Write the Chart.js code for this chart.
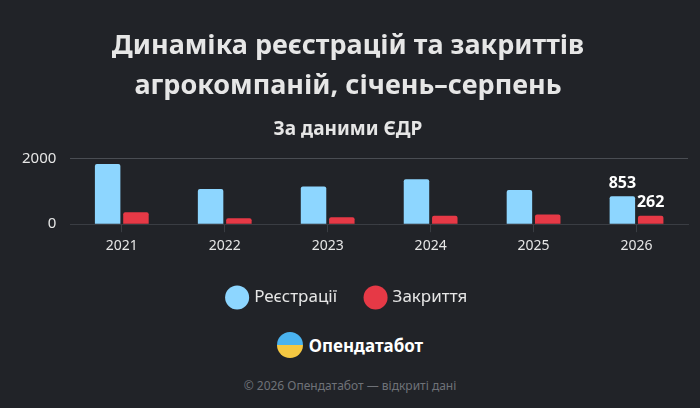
<!DOCTYPE html>
<html>
<head>
<meta charset="utf-8">
<script src="https://cdn.jsdelivr.net/npm/chart.js@4"></script>
<style>
  html, body { margin: 0; padding: 0; background: #212328; font-family: "Noto Sans", sans-serif; }
  #wrap { width: 700px; height: 316px; position: relative; }
  .brand { display: flex; align-items: center; justify-content: center; gap: 6px; color: #fff; font-weight: bold; font-size: 17px; margin-top: 14px; height: 30px; }
  .logo { width: 26px; height: 26px; border-radius: 50%; background: linear-gradient(#4ab3f0 50%, #f5c842 50%); }
  .foot { text-align: center; color: #6f7278; font-size: 12px; margin-top: 17px; }
</style>
</head>
<body>
<div id="wrap"><canvas id="myChart"></canvas></div>
<div class="brand"><div class="logo"></div>Опендатабот</div>
<div class="foot">© 2026 Опендатабот — відкриті дані</div>
<script>
var years = ['2021', '2022', '2023', '2024', '2025', '2026'];
var registrations = [1840, 1075, 1150, 1375, 1045, 853];
var closures = [365, 185, 215, 255, 295, 262];
var yTicks = [0, 2000];

// label only the latest year
var lastLabels = {
    id: 'lastLabels',
    afterDatasetsDraw: function (chart) {
        var ctx = chart.ctx;
        ctx.save();
        ctx.fillStyle = '#ffffff';
        ctx.font = 'bold 16px "Noto Sans"';
        ctx.textAlign = 'center';
        ctx.textBaseline = 'bottom';
        chart.data.datasets.forEach(function (ds, i) {
            var meta = chart.getDatasetMeta(i);
            var last = meta.data.length - 1;
            var bar = meta.data[last];
            ctx.fillText(ds.data[last], bar.x, bar.y - 5);
        });
        ctx.restore();
    }
};

var ctx = document.getElementById('myChart').getContext('2d');
var chart = new Chart(ctx, {
    type: 'bar',
    data: {
        labels: years,
        datasets: [{
            label: 'Реєстрації',
            backgroundColor: '#8dd6ff',
            borderRadius: 2,
            data: registrations
        },
        {
            label: 'Закриття',
            backgroundColor: '#e63946',
            borderRadius: 2,
            data: closures
        }]
    },
    options: {
        responsive: true,
        maintainAspectRatio: false,
        animation: false,
        categoryPercentage: 0.55,
        barPercentage: 0.9,
        layout: { padding: { left: 8, right: 12 } },
        scales: {
            x: {
                grid: { color: '#3a3d43', offset: false, drawOnChartArea: false, tickLength: 8 },
                border: { color: '#3a3d43' },
                ticks: { color: '#e6e6e6', font: { size: 14, family: 'Noto Sans' }, padding: 5 }
            },
            y: {
                min: 0, max: 2000,
                afterBuildTicks: function (axis) { axis.ticks = yTicks.map(function (v) { return { value: v }; }); },
                grid: { color: '#4a4d53', drawTicks: false },
                border: { display: false },
                ticks: { color: '#e6e6e6', font: { size: 15, family: 'Noto Sans' }, padding: 14,
                    callback: function (v) { return String(v); } }
            }
        },
        plugins: {
            title: {
                display: true,
                text: ['Динаміка реєстрацій та закриттів', 'агрокомпаній, січень–серпень'],
                color: '#e6e6e6',
                font: { size: 27, weight: 'bold', family: 'Noto Sans', lineHeight: 1.5 },
                padding: { top: 26, bottom: 11 }
            },
            subtitle: {
                display: true,
                text: 'За даними ЄДР',
                color: '#e6e6e6',
                font: { size: 19, weight: 'bold', family: 'Noto Sans' },
                padding: { bottom: 18 }
            },
            legend: {
                position: 'bottom',
                labels: {
                    usePointStyle: true,
                    pointStyle: 'circle',
                    boxWidth: 18, boxHeight: 18,
                    padding: 30,
                    color: '#e6e6e6',
                    font: { size: 17, family: 'Noto Sans' }
                }
            },
            tooltip: { enabled: false }
        }
    },
    plugins: [lastLabels]
});
</script>
</body>
</html>
